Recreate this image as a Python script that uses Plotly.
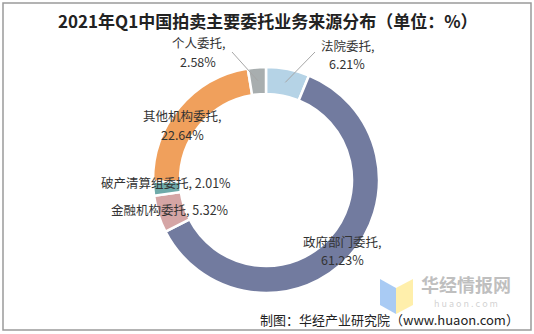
import numpy as np
import plotly.graph_objects as go

labels = ["法院委托", "政府部门委托", "金融机构委托", "破产清算组委托", "其他机构委托", "个人委托"]
values = [6.21, 61.23, 5.32, 2.01, 22.64, 2.58]
colors = ["#b5d3e6", "#727b9f", "#d5a5a5", "#6eaaa9", "#f0a05c", "#a8aeaf"]

W, H = 534, 334
cx, cy, R, r_in = 266, 180, 113, 86
FONT = "Noto Sans CJK SC, Noto Sans, sans-serif"

def px(x):
    return x / W

def py(y):
    return (H - y) / H

fig = go.Figure()
fig.add_trace(go.Pie(
    labels=labels, values=values, sort=False, direction="clockwise", rotation=0,
    hole=r_in / R, textinfo="none", hoverinfo="label+percent",
    marker=dict(colors=colors, line=dict(color="white", width=2.5)),
    domain=dict(x=[px(cx - R), px(cx + R)], y=[py(cy + R), py(cy - R)]),
    showlegend=False,
))

# slice mid-angle points for leader lines (computed from data)
vals = np.array(values)
cum = np.cumsum(vals) - vals / 2
ang = cum / vals.sum() * 2 * np.pi
rm = (R + r_in) / 2
mid_x = cx + rm * np.sin(ang)
mid_y = cy - rm * np.cos(ang)

txt = dict(family=FONT, size=12.5, color="#333333")
ann = []
# (x, centre y of label block, two-line?, leader start)
label_pos = {
    0: (347, 55, True, (315, 52)),
    1: (342, 250, True, None),
    2: (170, 209, False, None),
    3: (166, 183, False, None),
    4: (182, 125, True, None),
    5: (198, 52, True, (232, 52)),
}
LH = 18
for i, (x, y, two, start) in label_pos.items():
    if two:
        lines = [f"{labels[i]},", f"{values[i]:.2f}%"]
        ys = [y - LH / 2, y + LH / 2]
    else:
        lines = [f"{labels[i]}, {values[i]:.2f}%"]
        ys = [y]
    for t, yy in zip(lines, ys):
        ann.append(dict(x=px(x), y=py(yy), xref="paper", yref="paper", text=t,
                        showarrow=False, font=txt, xanchor="center", yanchor="middle",
                        borderpad=0, borderwidth=0))

shapes = []
for i in (0, 5):
    sx, sy = label_pos[i][3]
    shapes.append(dict(type="line", xref="paper", yref="paper",
                       x0=px(sx), y0=py(sy), x1=px(mid_x[i]), y1=py(mid_y[i]),
                       line=dict(color="#a6a6a6", width=1)))

# outer frame
shapes.append(dict(type="rect", xref="paper", yref="paper",
                   x0=px(3), y0=py(330), x1=px(531), y1=py(3),
                   line=dict(color="#9a9a9a", width=1.5), fillcolor="rgba(0,0,0,0)"))

# watermark logo
shapes.append(dict(type="path", xref="paper", yref="paper",
                   path=f"M {px(380)} {py(279)} L {px(396)} {py(288)} L {px(396)} {py(314)} L {px(380)} {py(305)} Z",
                   fillcolor="rgba(140,185,240,0.75)", line=dict(width=0)))
shapes.append(dict(type="path", xref="paper", yref="paper",
                   path=f"M {px(396)} {py(288)} L {px(413)} {py(279)} L {px(413)} {py(305)} L {px(396)} {py(314)} Z",
                   fillcolor="rgba(255,235,150,0.8)", line=dict(width=0)))

ann.append(dict(x=px(466), y=py(284), xref="paper", yref="paper", text="<b>华经情报网</b>",
                showarrow=False, font=dict(family=FONT, size=18, color="rgba(170,170,170,0.75)"),
                xanchor="center", yanchor="middle", borderpad=0, borderwidth=0))
ann.append(dict(x=px(466), y=py(303), xref="paper", yref="paper", text="h u a o n . c o m",
                showarrow=False, font=dict(family=FONT, size=9, color="rgba(190,190,190,0.7)"),
                xanchor="center", yanchor="middle", borderpad=0, borderwidth=0))

# footer
ann.append(dict(x=px(519), y=py(319), xref="paper", yref="paper",
                text="制图：华经产业研究院（www.huaon.com）", showarrow=False,
                font=dict(family=FONT, size=13, color="#222222"), xanchor="right", yanchor="middle",
                borderpad=0, borderwidth=0))

# title
ann.append(dict(x=px(268), y=py(20), xref="paper", yref="paper",
                text="<b>2021年Q1中国拍卖主要委托业务来源分布（单位：%）</b>", showarrow=False,
                font=dict(family=FONT, size=17, color="#222222"), xanchor="center", yanchor="middle"))

fig.update_layout(width=W, height=H, margin=dict(l=0, r=0, t=0, b=0),
                  paper_bgcolor="white", plot_bgcolor="white",
                  annotations=ann, shapes=shapes)
fig.write_html("out.html")
